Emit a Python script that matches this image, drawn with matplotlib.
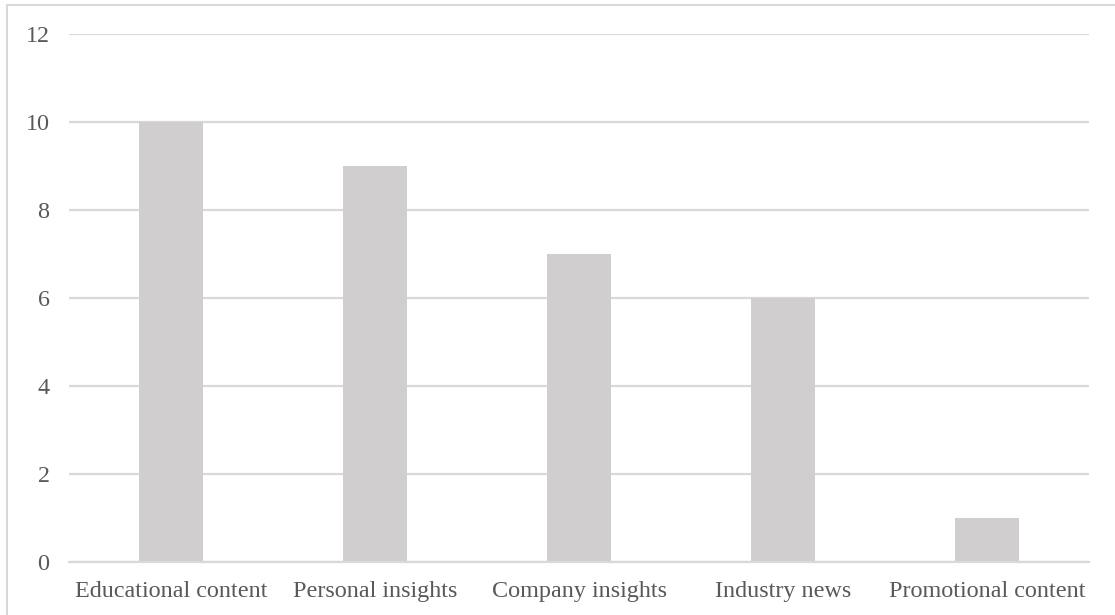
import matplotlib.pyplot as plt
from matplotlib.patches import Rectangle

categories = ["Educational content", "Personal insights", "Company insights",
              "Industry news", "Promotional content"]
counts = [10, 9, 7, 6, 1]
y_ticks = [0, 2, 4, 6, 8, 10, 12]

plt.rcParams["font.family"] = ["Liberation Serif", "DejaVu Serif"]

fig = plt.figure(figsize=(11.15, 6.15), dpi=100)
ax = fig.add_axes([69 / 1115, 1 - 562 / 615, (1089 - 69) / 1115, (562 - 34) / 615])

ax.bar(range(len(categories)), counts, width=0.315, color="#D0CECE", zorder=2)

ax.set_xlim(-0.5, len(categories) - 0.5)
ax.set_ylim(0, 12)
ax.set_yticks(y_ticks)
ax.set_xticks(range(len(categories)))
ax.set_xticklabels(categories)
ax.grid(axis="y", color="#D9D9D9", linewidth=1.6, zorder=0)
ax.set_axisbelow(True)
for side in ["top", "right", "left"]:
    ax.spines[side].set_visible(False)
ax.spines["bottom"].set_color("#D9D9D9")
ax.spines["bottom"].set_linewidth(1.6)
ax.tick_params(length=0, labelsize=17.4, colors="#595959")
ax.tick_params(axis="y", pad=14)
ax.tick_params(axis="x", pad=14)

# chart area border (right and bottom fall outside the image)
fig.add_artist(Rectangle((7 / 1115, -0.1), 1.2, 1.1 - 5 / 615, transform=fig.transFigure,
                         fill=False, edgecolor="#D9D9D9", linewidth=1.5))

fig.savefig("out.png", dpi=100)
